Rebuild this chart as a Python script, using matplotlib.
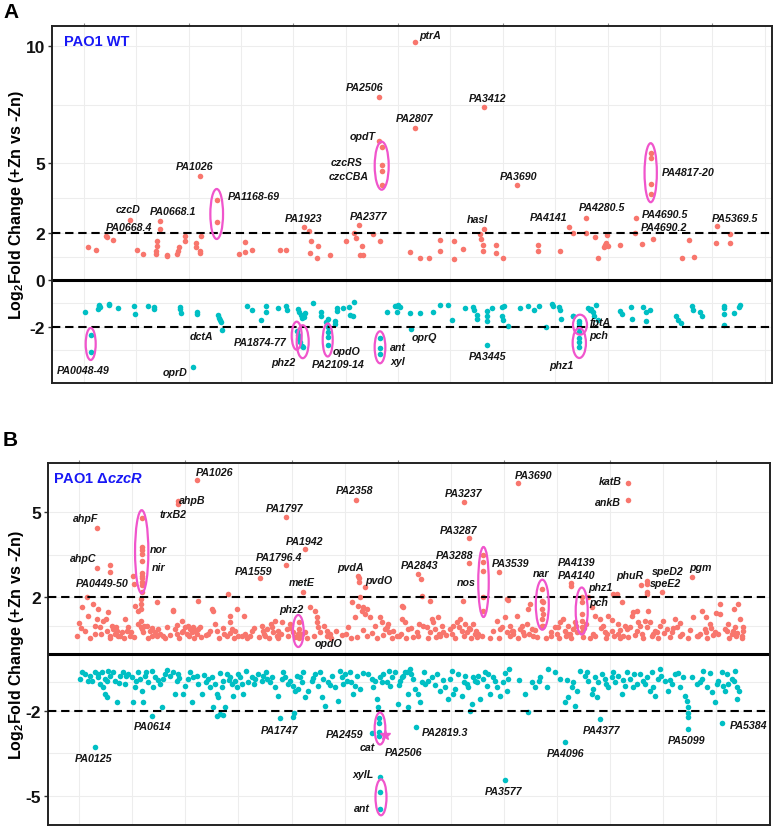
import matplotlib
matplotlib.use('Agg')
import matplotlib.pyplot as plt
from matplotlib.patches import Ellipse

plt.rcParams['font.family'] = ['Liberation Sans', 'DejaVu Sans']
plt.rcParams['mathtext.fontset'] = 'custom'
plt.rcParams['mathtext.rm'] = 'Liberation Sans:bold'
plt.rcParams['mathtext.bf'] = 'Liberation Sans:bold'
plt.rcParams['mathtext.it'] = 'Liberation Sans:bold:italic'

RED = '#F8766D'
TEAL = '#00BFC4'
PINK = '#F055CC'

# ---------------- Panel A : PAO1 WT ----------------
wt_up_gene = [84, 151, 235, 240, 294, 437, 496, 546, 655, 658, 660, 663, 689, 689, 745, 752,
              835, 840, 845, 899, 902, 988, 992, 1022, 1028, 1030, 1025, 1165, 1165,
              1353, 1400, 1402, 1460, 1700, 1745, 1900, 1945, 1960, 2015, 1950, 2005, 2115,
              2250, 2360, 2320, 2335, 2390, 2370, 2395, 2480, 2540, 2532, 2532, 2552, 2552, 2552, 2552,
              2834, 2834, 2790, 2874, 2950, 3042, 3045, 3160, 3163, 3235, 3410, 3380, 3390, 3400, 3405,
              3412, 3510, 3512, 3570, 3686, 3865, 3868, 4050, 4130, 4160, 4270, 4272, 4347, 4370,
              4420, 4430, 4440, 4445, 4450, 4555, 4690, 4680, 4737, 4830, 4812, 4812, 4812, 4812,
              5073, 5137, 5180, 5370, 5360, 5480, 5482]
wt_up_lfc = [1.41, 1.28, 1.88, 1.82, 1.71, 2.56, 1.28, 1.11, 1.10, 1.25, 1.47, 1.68, 2.53, 2.18, 1.07, 1.02,
             1.10, 1.25, 1.40, 1.68, 1.89, 1.40, 1.60, 1.25, 1.15, 1.87, 4.46, 3.43, 2.46,
             1.10, 1.20, 1.63, 1.27, 1.27, 1.27, 2.25, 2.10, 1.68, 1.44, 1.15, 0.94, 1.05,
             1.68, 2.35, 2.02, 1.80, 1.45, 1.05, 1.05, 1.96, 1.68, 7.83, 5.95, 5.67, 4.93, 4.64, 4.07,
             10.19, 6.48, 1.21, 0.92, 0.92, 1.72, 1.25, 1.66, 0.91, 1.33, 2.18, 1.96, 1.74, 1.50, 1.22,
             7.41, 1.50, 1.14, 0.92, 4.06, 1.50, 1.22, 1.22, 2.28, 1.99, 2.66, 1.99, 1.84, 0.94,
             1.40, 1.50, 1.60, 1.92, 1.45, 1.50, 2.67, 1.99, 1.53, 1.74, 5.43, 5.20, 4.10, 3.67,
             0.92, 1.72, 1.00, 2.32, 1.60, 1.97, 1.58]

wt_down_gene = [59, 107, 107, 170, 175, 180, 185, 258, 262, 337, 473, 475, 585, 638, 642,
                856, 860, 864, 998, 1002, 969, 1175, 1185, 1192, 1200, 1210, 1420, 1462, 1537, 1580, 1582,
                1678, 1752, 1756, 1850, 1860, 1870, 1885, 1900, 1910,
                1838, 1846, 1857, 1866, 1880, 1888, 1977, 2040, 2044, 2104, 2104, 2104, 2104, 2104,
                2084, 2158, 2162, 2174, 2179, 2229, 2277, 2286, 2308, 2319, 2538, 2538, 2538,
                2594, 2664, 2678, 2680, 2692, 2706, 2798, 2790, 2874, 2980, 3042, 3112, 3140,
                3252, 3317, 3330, 3350, 3356, 3435, 3437, 3439, 3440, 3476, 3560, 3580, 3562, 3569, 3611,
                3714, 3784, 3835, 3877, 3930, 3980, 3994, 4045, 4050, 4059, 4158, 4162,
                4210, 4210, 4210, 4210, 4210, 4210, 4210, 4210,
                4288, 4303, 4330, 4353, 4311, 4332, 4367, 4555, 4570, 4650, 4655, 4750, 4770, 4775, 4810,
                5025, 5045, 5065, 5160, 5170, 5230, 5245, 5428, 5430, 5432, 5430, 5510, 5555, 5562]
wt_down_lfc = [-1.35, -2.35, -3.09, -1.24, -1.10, -1.07, -1.17, -1.03, -1.07, -1.20, -1.13, -1.45, -1.10, -1.17, -1.23,
               -1.17, -1.23, -1.39, -1.37, -1.45, -3.73, -1.50, -1.64, -1.71, -1.78, -2.12, -1.13, -1.27, -1.70, -1.10, -1.37,
               -1.20, -1.10, -1.30, -1.25, -1.37, -1.50, -1.62, -1.56, -1.40,
               -2.16, -2.35, -2.51, -2.66, -2.80, -2.88, -1.00, -1.37, -1.52, -1.67, -2.02, -2.24, -2.45, -2.76,
               -1.80, -1.76, -1.88, -1.20, -1.32, -1.20, -1.17, -1.48, -1.55, -0.92, -2.49, -2.91, -3.16,
               -1.37, -1.10, -1.13, -1.37, -1.07, -1.17, -2.09, -1.40, -1.40, -1.37, -1.08, -1.05, -1.69,
               -1.20, -1.15, -1.30, -1.68, -1.50, -1.55, -1.76, -1.33, -2.78, -1.20, -1.15, -1.10, -1.55, -1.70, -1.97,
               -1.20, -1.13, -1.30, -1.13, -2.00, -1.03, -1.10, -1.17, -1.30, -1.66, -1.55, -1.52,
               -1.74, -1.84, -1.95, -2.05, -2.24, -2.49, -2.66, -2.88,
               -1.20, -1.30, -1.35, -1.07, -1.25, -1.55, -1.70, -1.31, -1.45, -1.17, -1.67, -1.14, -1.38, -1.74, -1.28,
               -1.55, -1.70, -1.84, -1.10, -1.27, -1.35, -1.55, -1.10, -1.20, -1.45, -1.92, -1.41, -1.15, -1.07]

# ---------------- Panel B : PAO1 dczcR ----------------
dz_up_gene = [1028, 866, 868, 193, 193, 304, 306, 497, 499,
              567, 567, 567, 567, 567, 567, 567, 567, 567, 567, 567,
              1764, 1922, 1764, 1549, 1908, 2343, 2364, 2366, 2368, 2420,
              3687, 3241, 4600, 4600, 3285, 3285, 3397, 3397, 3397, 3397, 3397, 3534, 2862, 2884, 4127, 4129,
              3891, 3891, 3893, 3891, 3893, 3891, 3891, 4218, 4218, 4220, 4218, 4218, 4218,
              4708, 4763, 4763, 4763, 4763, 4882, 5136, 1872, 1872, 1874, 1872,
              63, 74, 110, 124, 96, 165, 179, 207, 220, 193, 248, 276, 290, 303, 317, 331, 345, 359, 373, 400,
              428, 442, 456, 469, 511, 533, 566, 580, 588, 560, 560, 560, 562, 560, 608, 635, 649, 677, 704, 718,
              829, 843, 857, 898, 912, 926, 940, 953, 967, 981, 995, 1009, 1023, 1036, 1147, 1161, 1119, 1188, 1175,
              1285, 1299, 1299, 1313, 1271, 1341, 1354, 1368, 1415, 1465, 1562, 1576, 1590, 1603, 1645, 1659, 1673,
              1686, 1700, 1728, 1769, 1797, 1825, 1839, 1921, 1963, 2004, 2018, 2018, 2032, 2046, 2101, 2101,
              2281, 2309, 2336, 2364, 2378, 2392, 2406, 2420, 2433, 2461, 2502, 2544, 2558, 2585, 2613, 2655, 2682,
              2738, 2751, 2779,
              2724, 2724, 2821, 2848, 2890, 2904, 2931, 2959, 2973, 2987, 3000, 3028, 3042, 3056, 3070, 3125, 3153,
              3180, 3208, 3222, 3236, 3249, 3263, 3291, 3319, 3346, 3360, 3512, 3540, 3581, 3595, 3595, 3623, 3650,
              3678, 3706, 3733, 3761, 3775, 3789, 3803, 3816, 3996, 4010, 4038, 4065, 4079, 4107, 4121, 4148, 4162,
              4273, 4300, 4328, 4370, 4397, 4411, 4439, 4480, 4508, 4522, 4549, 4563, 4591, 4632, 4646, 4674, 4688,
              4702, 4715, 4743, 4771, 4785, 4826, 4867, 4895, 4923, 4964, 4992, 5006, 5144, 5172, 5213, 5241, 5282,
              5324, 5365, 5365, 5407, 5434, 5462, 5490, 5517, 5531, 5545, 5559,
              30, 140, 230, 300, 390, 420, 500, 620, 690, 760, 800, 880, 960, 1000, 1060, 1100, 1210, 1250, 1330,
              1400, 1440, 1540, 1620, 1700, 1780, 1860, 1940, 2000, 2140, 2230, 2300, 2350, 2440, 2520, 2570, 2640,
              2700, 2760, 2860, 2940, 3010, 3090, 3170, 3240, 3300, 3390, 3460, 3530, 3620, 3690, 3740, 3850, 3920,
              3960, 4030, 4090, 4130, 4230, 4290, 4330, 4420, 4490, 4540, 4600, 4660, 4730, 4800, 4850, 4950, 5030,
              5100, 5180, 5260, 5310, 5440, 5500, 5550,
              2960, 3340, 3650, 4180, 4470, 4840, 5250, 5470, 1480, 900, 2180, 2620, 3900, 4250, 4620, 5030,
              693, 827, 1031, 3604, 4470, 4520, 5330, 5250, 5480,
              50, 180, 270, 350, 480, 540, 650, 740, 780, 860, 1050, 1130, 1240, 1300, 1420, 1500, 1580, 1640,
              1720, 1800, 1900, 2080, 2130, 2260, 2400, 2480, 2600, 2720, 2800, 2870, 3030, 3140, 3200, 3280,
              3330, 3480, 3560, 3640, 3720, 3780, 3830, 3960, 4020, 4100, 4170, 4240, 4310, 4380, 4430, 4540,
              4580, 4680, 4760, 4810, 4900, 4980, 5050, 5120, 5200, 5290, 5350, 5420, 5510, 5560]
dz_up_lfc = [6.13, 5.40, 5.28, 4.43, 3.03, 3.14, 2.88, 2.74, 2.46,
             4.78, 3.76, 3.66, 3.52, 3.29, 2.85, 2.76, 2.67, 2.55, 2.44, 2.19,
             4.83, 3.70, 3.14, 2.67, 2.19, 5.42, 2.76, 2.67, 2.52, 2.35,
             6.01, 5.36, 6.01, 5.42, 4.08, 3.19, 3.49, 3.25, 2.91, 2.00, 1.52, 2.88, 2.82, 2.64, 2.50, 2.40,
             2.29, 1.88, 1.82, 1.58, 1.41, 1.23, 1.00, 2.00, 1.82, 1.41, 1.17, 0.94, 0.76,
             2.44, 2.58, 2.46, 2.19, 2.11, 2.19, 2.72, 1.12, 0.88, 0.73, 0.56,
             0.90, 1.64, 2.00, 1.35, 0.82, 1.76, 1.00, 1.58, 0.94, 1.23, 1.17, 0.82, 1.47, 0.65, 1.00, 0.88, 0.70, 0.82, 0.65, 0.76,
             1.23, 0.82, 0.94, 0.65, 1.70, 1.53, 0.88, 0.76, 1.00, 1.94, 1.76, 1.58, 1.17, 0.94, 1.00, 0.82, 0.65, 0.76, 0.88, 0.70,
             1.53, 0.88, 0.70, 1.17, 0.82, 0.94, 0.70, 1.00, 0.88, 0.76, 0.94, 0.82, 0.70, 0.88, 1.58, 1.53, 0.70, 0.82, 1.06,
             2.11, 1.35, 1.12, 0.88, 0.65, 0.82, 1.58, 0.65, 1.33, 0.65, 1.00, 0.82, 0.65, 0.88, 0.94, 0.76, 1.17,
             0.65, 0.82, 1.12, 0.88, 1.06, 0.76, 0.59, 0.76, 1.64, 1.53, 1.29, 1.12, 0.94, 0.76, 0.82, 0.65,
             0.94, 1.82, 1.29, 1.70, 2.00, 1.53, 1.64, 1.41, 1.58, 1.29, 1.00, 1.29, 1.12, 0.88, 1.06, 0.82, 0.65,
             1.64, 1.12, 0.88,
             1.70, 1.23, 0.59, 0.76, 2.05, 1.00, 0.94, 1.88, 1.23, 1.12, 0.88, 1.29, 0.65, 1.00, 0.76, 0.88, 1.00,
             1.12, 1.23, 0.82, 1.88, 1.06, 0.76, 0.88, 1.06, 0.59, 0.70, 1.17, 0.88, 1.29, 1.94, 0.76, 1.00, 0.70,
             1.35, 0.88, 0.76, 1.06, 1.58, 1.76, 0.88, 0.65, 0.94, 0.70, 1.12, 1.23, 0.82, 1.00, 0.70, 0.88, 1.12,
             2.00, 1.64, 1.35, 1.23, 1.00, 0.76, 1.35, 2.11, 2.11, 1.06, 1.82, 0.65, 0.88, 1.35, 1.47, 1.53, 1.12,
             1.00, 0.70, 1.17, 1.53, 1.12, 0.82, 1.00, 1.17, 0.88, 0.76, 1.23, 0.94, 1.29, 0.65, 1.53, 0.88, 1.06,
             0.76, 1.76, 1.41, 0.88, 1.06, 0.70, 0.94, 1.76, 1.23, 0.65, 0.82,
             0.62, 0.55, 0.72, 0.58, 0.63, 0.55, 0.60, 0.57, 0.62, 0.55, 0.68, 0.58, 0.62, 0.55, 0.60, 0.66, 0.58, 0.72, 0.55,
             0.62, 0.57, 0.60, 0.55, 0.58, 0.63, 0.70, 0.58, 0.62, 0.58, 0.66, 0.55, 0.60, 0.62, 0.57, 0.66, 0.58,
             0.62, 0.55, 0.63, 0.56, 0.60, 0.66, 0.58, 0.62, 0.56, 0.64, 0.58, 0.55, 0.62, 0.58, 0.66, 0.60, 0.55,
             0.62, 0.58, 0.64, 0.56, 0.60, 0.55, 0.64, 0.58, 0.62, 0.56, 0.60, 0.66, 0.57, 0.62, 0.55, 0.60, 0.64,
             0.57, 0.62, 0.55, 0.66, 0.58, 0.62, 0.56,
             0.78, 0.80, 0.82, 0.78, 0.80, 0.76, 0.78, 0.80, 0.80, 0.78, 0.80, 0.78, 1.00, 1.05, 0.95, 1.10,
             1.84, 1.55, 1.86, 1.90, 1.20, 0.70, 1.45, 1.30, 1.60,
             1.10, 0.72, 1.25, 0.95, 0.78, 1.05, 0.90, 0.62, 0.95, 1.02, 0.95, 0.80, 0.90, 0.75, 0.72, 0.90, 0.72, 1.05,
             0.70, 0.92, 0.72, 1.00, 0.72, 0.72, 0.85, 0.74, 0.95, 0.72, 0.90, 1.05, 0.72, 0.72, 0.95, 0.90,
             0.72, 0.80, 0.95, 0.82, 1.00, 0.72, 0.85, 0.78, 0.95, 0.72, 1.00, 0.90, 0.72, 0.90, 0.72, 0.85,
             1.00, 0.80, 0.95, 0.70, 0.75, 0.90, 0.72, 0.85, 0.72, 0.90, 0.70, 0.82, 0.75, 0.95]

dz_down_gene = [177, 650, 1715, 1825, 1827, 2475, 2536, 2536, 2538, 2538, 2544, 2544, 2544,
                2843, 3579, 4080, 4370, 5103, 5103, 5103, 5385,
                54, 96, 137, 151, 179, 207, 220, 248, 262, 276, 290, 303, 234, 276, 345, 359, 386, 414, 428, 456,
                483, 497, 511, 538, 552, 566, 580, 594, 621, 649, 663, 677, 718, 732, 746, 760, 801, 829, 843, 857,
                870, 912, 926, 953, 981, 995, 1023, 1036, 1064, 1119, 1133, 1147, 1161, 1175, 1188, 1202, 1216,
                1230, 1244, 1258, 1271, 1299, 1313, 1327, 1341, 1354, 1368, 1396, 1410, 1451, 1479, 1507, 1534,
                1562, 1576, 1603, 1645, 1673, 1700, 1728, 1756, 1797, 1825, 1839, 1852, 1866, 1894, 1908, 1921,
                1949, 1977, 2004, 2032, 2060, 2074, 2087, 2115, 2143, 2170, 2198, 2212, 2226, 2240, 2267, 2295,
                2323, 2336, 2350, 2378, 2447, 2475, 2489, 2502, 2516, 2530, 2544, 2571, 2599, 2627, 2641, 2668,
                2696, 2710, 2738, 2765, 2779, 1188, 1244,
                2724, 2751, 2779, 2793, 2821, 2834, 2862, 2876, 2890, 2917, 2945, 2973, 3014, 3042, 3083, 3111,
                3125, 3139, 3153, 3166, 3222, 3249, 3263, 3277, 3291, 3305, 3319, 3332, 3360, 3374, 3402, 3415,
                3429, 3457, 3484, 3512, 3540, 3567, 3595, 3609, 3617, 3747, 3775, 3803, 3830, 3872, 3927, 3941,
                4038, 4079, 4107, 4134, 4148, 4162, 4204, 4245, 4273, 4300, 4314, 4342, 4356, 4383, 4411, 4439,
                4466, 4494, 4522, 4549, 4577, 4591, 4619, 4646, 4674, 4702, 4729, 4757, 4785, 4812, 4826, 4854,
                4867, 4909, 4937, 4964, 4992, 5033, 5061, 5075, 5089, 5103, 5172, 5213, 5227, 5255, 5296, 5324,
                5351, 5379, 5393, 5407, 5434, 5462, 5490, 5503, 5503,
                70, 120, 200, 260, 330, 380, 440, 520, 600, 700, 780, 880, 970, 1080, 1100, 1220, 1290, 1380, 1430,
                1500, 1600, 1630, 1740, 1780, 1880, 1990, 2050, 2130, 2250, 2300, 2400, 2560, 2620, 2700, 2800,
                2910, 3000, 3070, 3190, 3240, 3350, 3440, 3500, 3580, 3700, 3860, 4000, 4100, 4180, 4260, 4330,
                4420, 4480, 4560, 4650, 4740, 4800, 4880, 4950, 5020, 5130, 5200, 5280, 5340, 5420, 5480, 5520]
dz_down_lfc = [-3.26, -2.19, -2.25, -2.23, -2.09, -2.79, -2.25, -2.44, -2.74, -2.88, -4.34, -4.85, -5.46,
               -2.58, -4.44, -3.09, -2.29, -2.64, -2.23, -2.09, -2.44,
               -0.88, -0.70, -0.76, -0.94, -0.65, -0.82, -1.06, -1.17, -1.41, -1.53, -0.59, -0.76, -0.65, -0.94, -0.94, -1.70, -0.76, -0.65, -1.06, -0.70,
               -0.82, -1.70, -1.17, -0.65, -0.88, -1.29, -1.70, -0.76, -1.00, -0.59, -1.17, -0.82, -1.06, -1.88, -0.88, -0.70, -0.76, -0.65, -1.41, -0.94,
               -0.70, -1.41, -1.12, -0.88, -1.70, -0.82, -0.76, -1.06, -1.41, -0.88, -1.17, -0.82, -1.88, -1.06, -1.41, -1.53, -2.11,
               -1.17, -0.94, -1.88, -0.70, -0.82, -1.06, -1.47, -0.94, -1.17, -0.70, -1.06, -1.41, -1.00, -0.82, -0.88, -0.70,
               -0.94, -0.76, -0.88, -0.82, -1.17, -1.47, -0.88, -0.82, -0.94, -1.12, -1.29, -0.76, -1.23, -1.00, -0.65, -1.53,
               -1.29, -0.94, -0.70, -1.12, -1.53, -0.88, -1.82, -1.00, -0.76, -1.17, -1.64, -0.59, -0.82, -1.06, -0.94, -0.65,
               -1.41, -1.12, -0.76, -1.23, -0.70, -0.88, -1.17, -0.94, -1.58, -1.88, -0.82, -0.70, -1.00, -1.12, -0.82, -0.65,
               -1.76, -0.94, -0.76, -0.65, -1.41, -2.17, -2.15,
               -0.82, -0.65, -1.88, -0.53, -0.88, -1.23, -1.41, -1.70, -1.00, -1.06, -0.94, -0.82, -0.70, -1.29, -1.17, -1.58,
               -0.88, -0.59, -1.41, -1.23, -1.47, -0.76, -1.06, -1.17, -2.00, -1.76, -0.82, -0.94, -0.76, -1.58, -0.88, -0.65,
               -1.12, -1.41, -0.82, -1.17, -1.47, -1.00, -1.29, -0.88, -0.53, -1.41, -2.05, -1.00, -1.17, -0.82, -1.17, -0.53,
               -0.88, -1.70, -1.53, -1.17, -1.00, -1.82, -0.59, -0.76, -0.94, -1.41, -1.23, -1.53, -1.00, -0.70, -0.88, -1.17,
               -0.82, -1.00, -0.76, -1.41, -1.12, -0.65, -0.88, -1.17, -1.06, -0.70, -0.94, -0.82, -1.29, -1.17, -1.47, -0.88,
               -0.53, -0.94, -1.29, -1.06, -0.70, -1.17, -0.82, -1.47, -1.64, -1.88, -1.06, -0.88, -0.59, -1.17, -1.35, -1.70,
               -0.94, -0.65, -1.12, -1.29, -1.06, -0.88, -0.59, -1.58, -1.17,
               -0.62, -0.95, -0.72, -0.88, -0.62, -1.02, -0.78, -0.95, -0.62, -0.92, -0.58, -0.85, -0.62, -0.74, -1.00, -0.68, -0.90, -0.82, -0.60,
               -1.05, -0.62, -1.00, -0.64, -1.05, -0.80, -0.85, -0.62, -1.10, -0.72, -1.00, -0.68, -1.00, -0.60, -1.10, -0.70,
               -0.64, -1.10, -0.90, -0.70, -1.00, -1.00, -0.70, -0.95, -0.66, -0.90, -0.95, -0.62, -0.90, -1.30, -0.62, -0.80,
               -1.05, -0.62, -0.90, -0.70, -1.05, -0.62, -0.78, -0.90, -0.66, -0.80, -1.00, -0.66, -1.05, -0.70, -0.95, -1.30]

# label texts with positions (figure pixel coordinates of the reference)
A_labels = [('ptrA', 430, 35.7), ('PA2506', 365, 87.7), ('PA3412', 487.7, 99.3), ('PA2807', 414.3, 119),
            ('opdT', 362.7, 136.7), ('czcRS', 346.7, 163.3), ('czcCBA', 348.3, 176.7), ('PA1026', 195, 167.3),
            ('PA1168-69', 253.7, 197.3), ('PA3690', 519, 177.3), ('PA4817-20', 688.3, 173.3),
            ('czcD', 127.7, 210), ('PA0668.1', 173.3, 212.3), ('PA0668.4', 129.3, 228.3), ('PA1923', 304, 219),
            ('PA2377', 369, 216.7), ('hasI', 477.7, 220), ('PA4141', 548.3, 217.7), ('PA4280.5', 601.7, 208.3),
            ('PA4690.5', 665, 215), ('PA4690.2', 664.3, 228.3), ('PA5369.5', 735, 219),
            ('dctA', 201.7, 336.7), ('PA1874-77', 260, 342.7), ('phz2', 283.3, 362.7), ('opdO', 346.7, 352.3),
            ('PA2109-14', 337.7, 365), ('ant', 398.3, 348.3), ('xyl', 398.3, 361.7), ('oprQ', 424.3, 338.3),
            ('PA3445', 487.3, 357.3), ('fptA', 600, 323.3), ('pch', 598.3, 336), ('phz1', 561, 366),
            ('PA0048-49', 83.3, 371), ('oprD', 175, 372.7)]
B_labels = [('PA1026', 215, 473.3), ('ahpB', 192.7, 501), ('trxB2', 173.3, 515), ('ahpF', 86, 519.3),
            ('ahpC', 83.3, 559), ('PA0449-50', 101.7, 584), ('nor', 158.3, 550), ('nir', 158.3, 567.7),
            ('PA1797', 284.3, 509.3), ('PA1942', 305, 542.3), ('PA1796.4', 279.3, 557.7), ('PA1559', 254, 572.3),
            ('metE', 301.7, 582.7), ('phz2', 291, 610), ('opdO', 328.3, 644), ('PA2358', 354.3, 491),
            ('pvdA', 350, 567.7), ('pvdO', 378.3, 581), ('PA3690', 534, 476), ('PA3237', 463.3, 494),
            ('katB', 610, 482.3), ('ankB', 607.7, 503.3), ('PA3287', 459, 531), ('PA3288', 455, 556),
            ('PA2843', 420, 566), ('nos', 466, 583.3), ('PA3539', 511, 564), ('nar', 541, 574.3),
            ('PA4139', 576.7, 562.7), ('PA4140', 576.7, 575.7), ('phz1', 600, 588.3), ('pch', 598.3, 602.7),
            ('phuR', 630, 575.7), ('speD2', 667.3, 571.7), ('speE2', 666, 584), ('pgm', 700.7, 568.3),
            ('PA0125', 94, 759.3), ('PA0614', 152.7, 727.3), ('PA1747', 279.3, 731), ('PA2459', 344.3, 735),
            ('cat', 367.7, 748.3), ('PA2506', 403.3, 752.7), ('xylL', 363.3, 775), ('ant', 362.3, 809),
            ('PA2819.3', 445, 733.3), ('PA3577', 504, 792.3), ('PA4096', 565.7, 754), ('PA4377', 601.7, 730.7),
            ('PA5099', 686.7, 741), ('PA5384', 748.3, 725.7)]

A_ellipses = [(90.7, 345, 10, 32), (216.7, 215, 12.7, 50), (381.7, 166.7, 14, 48), (650.7, 173.7, 12.3, 59),
              (296.7, 336.7, 10, 28), (302.7, 342.7, 12, 33), (327.7, 341, 10, 33), (380, 348.3, 10.7, 32),
              (580, 325.7, 14, 20), (579.3, 344, 13.3, 30)]
B_ellipses = [(141.7, 552.7, 13.3, 83), (298.3, 632, 10.7, 32), (483.5, 583, 10.5, 70), (542.3, 605.7, 13, 50),
              (581.7, 612, 12, 47), (380, 729.5, 10.7, 32), (381, 798.3, 11, 36)]

A_yticks = [-2, 0, 2, 5, 10]
A_yminor = [-3, -1, 1, 3.5, 7.5]
B_yticks = [-5, -2, 2, 5]
B_yminor = [-3.5, -1, 0, 1, 3.5]
x_major = [50, 930, 1810, 2690, 3570, 4450, 5330]
x_minor = [490, 1370, 2250, 3130, 4010, 4890, 5770]

W, H = 778, 828
fig = plt.figure(figsize=(W / 100, H / 100), dpi=100)


def make_axes(left, right, top, bottom):
    return fig.add_axes([left / W, 1 - bottom / H, (right - left) / W, (bottom - top) / H])


def setup(ax, xlim, ylim, yt, ymin):
    ax.set_xlim(*xlim)
    ax.set_ylim(*ylim)
    for g in x_major + x_minor:
        ax.axvline(g, color='#EDEDED', lw=0.8, zorder=0)
    for v in yt + ymin:
        ax.axhline(v, color='#EDEDED', lw=0.8, zorder=0)
    ax.axhline(0, color='black', lw=2.2, zorder=2)
    for v in (2, -2):
        ax.axhline(v, color='black', lw=1.5, ls=(0, (4, 2.3)), zorder=4)
    ax.set_yticks(yt)
    ax.set_yticklabels([str(v) for v in yt], fontsize=12.5, fontweight='bold', color='#111111')
    ax.set_xticks(x_major)
    ax.tick_params(axis='y', length=3, width=1, pad=2, color='#333333')
    ax.tick_params(axis='x', top=True, bottom=False, labeltop=False, labelbottom=False,
                   length=2, width=0.8, color='#888888')
    for s in ax.spines.values():
        s.set_linewidth(1.4)
        s.set_color('#222222')


def draw(ax, ug, ul, dg, dl, labels, ellipses, conv):
    ax.scatter(ug, ul, s=16, c=RED, linewidths=0, zorder=3)
    ax.scatter(dg, dl, s=16, c=TEAL, linewidths=0, zorder=3)
    for t, px, py in labels:
        x, y = conv(px, py)
        ax.text(x, y, t, ha='center', va='center', fontsize=7.7, fontweight='bold', fontstyle='italic',
                color='#151515', zorder=6)
    sx = conv(1, 0)[0] - conv(0, 0)[0]
    sy = conv(0, 0)[1] - conv(0, 1)[1]
    for px, py, wp, hp in ellipses:
        x, y = conv(px, py)
        ax.add_patch(Ellipse((x, y), wp * sx, hp * sy, fill=False, edgecolor=PINK, lw=1.6, zorder=5))


# Panel A geometry: gene -> px = 78 + 0.119*gene ; value -> py = 281 - 23.4*v
axA = make_axes(52, 772, 27, 384)
convA = lambda px, py: ((px - 78) / 0.119, (281 - py) / 23.4)
setup(axA, ((52 - 78) / 0.119, (772 - 78) / 0.119), ((281 - 384) / 23.4, (281 - 27) / 23.4), A_yticks, A_yminor)
draw(axA, wt_up_gene, wt_up_lfc, wt_down_gene, wt_down_lfc, A_labels, A_ellipses, convA)
axA.text(*convA(97, 42), 'PAO1 WT', ha='center', va='center', fontsize=10.5, fontweight='bold', color='#1818F5')

# Panel B geometry: gene -> px = 73.4 + 0.1205*gene ; value -> py = 655 - 28.4*v
axB = make_axes(48, 770, 464, 826)
convB = lambda px, py: ((px - 73.4) / 0.1205, (655 - py) / 28.4)
setup(axB, ((48 - 73.4) / 0.1205, (770 - 73.4) / 0.1205), ((655 - 826) / 28.4, (655 - 464) / 28.4), B_yticks, B_yminor)
draw(axB, dz_up_gene, dz_up_lfc, dz_down_gene, dz_down_lfc, B_labels, B_ellipses, convB)
axB.text(*convB(98.3, 479.3), r'PAO1 $\Delta\mathit{czcR}$', ha='center', va='center', fontsize=10.5,
         fontweight='bold', color='#1818F5')
axB.plot(*convB(385, 736), marker='*', ms=7, color=PINK, zorder=6)

ylab = r'Log$_\mathbf{2}$Fold Change (+Zn vs -Zn)'
fig.text(17 / W, 1 - 205 / H, ylab, rotation=90, ha='center', va='center', fontsize=11.5, fontweight='bold')
fig.text(17 / W, 1 - 645 / H, ylab, rotation=90, ha='center', va='center', fontsize=11.5, fontweight='bold')
fig.text(11 / W, 1 - 12 / H, 'A', ha='center', va='center', fontsize=15, fontweight='bold')
fig.text(10 / W, 1 - 441 / H, 'B', ha='center', va='center', fontsize=15, fontweight='bold')

fig.savefig('out.png', dpi=100)
